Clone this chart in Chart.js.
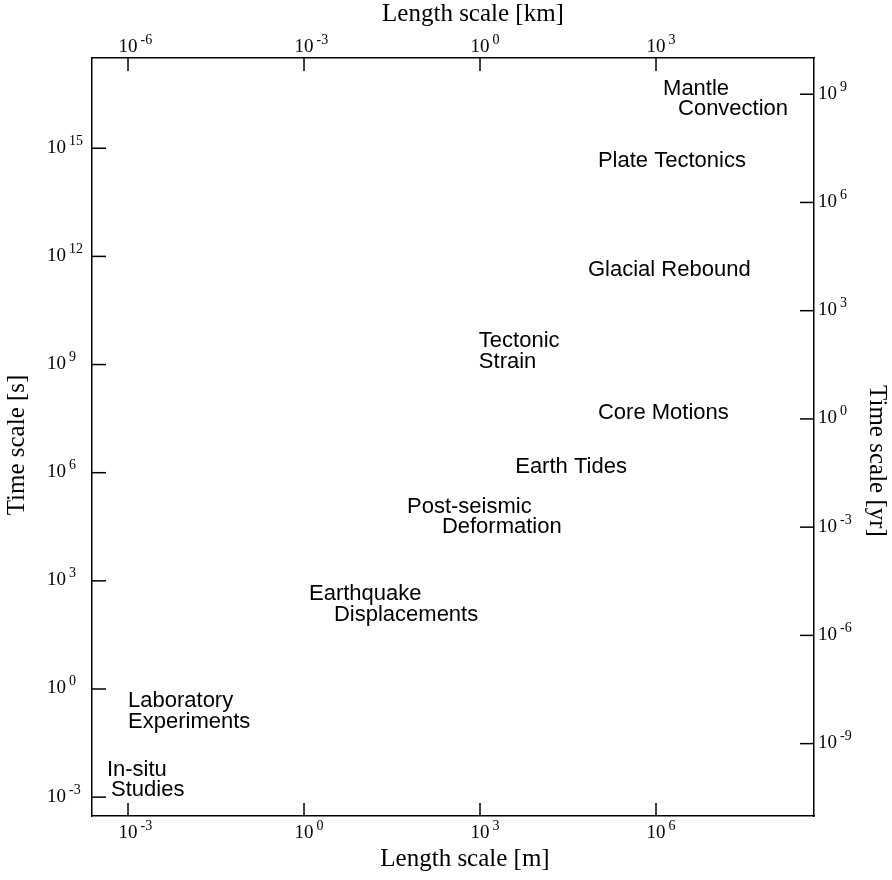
<!DOCTYPE html>
<html>
<head>
<meta charset="utf-8">
<title>Length and time scales</title>
<script src="https://cdn.jsdelivr.net/npm/chart.js@4.4.1/dist/chart.umd.min.js"></script>
<style>
  body { margin: 0; background: #fff; }
  #wrap { width: 892px; height: 880px; }
</style>
</head>
<body>
<div id="wrap"><canvas id="myChart"></canvas></div>
<script>
// Process names, one entry per text line, placed at (log10 length [m], log10 time [s])
const labelText = [
  "Mantle", "Convection", "Plate Tectonics", "Glacial Rebound",
  "Tectonic", "Strain", "Core Motions", "Earth Tides",
  "Post-seismic", "Deformation", "Earthquake", "Displacements",
  "Laboratory", "Experiments", "In-situ", "Studies",
];
const labelLogLength = [6.12, 6.375, 5.01, 4.84, 2.98, 2.98, 5.01, 3.6, 1.755, 2.35, 0.085, 0.51, -3.0, -3.0, -3.36, -3.29];
const labelLogTime = [16.48, 15.92, 14.48, 11.46, 9.49, 8.91, 7.5, 6.0, 4.89, 4.34, 2.48, 1.9, -0.51, -1.095, -2.4, -2.98];

// Tick exponents for each axis
const lengthTicksM = [-3, 0, 3, 6];
const lengthTicksKm = [-6, -3, 0, 3];
const timeTicksS = [-3, 0, 3, 6, 9, 12, 15];
const timeTicksYr = [-9, -6, -3, 0, 3, 6, 9];

// Axis titles
const titleBottom = "Length scale [m]";
const titleTop = "Length scale [km]";
const titleLeft = "Time scale [s]";
const titleRight = "Time scale [yr]";

// Axis ranges (log10 of m and s)
const lengthRange = [-3.614, 8.693];
const timeRange = [-3.507, 17.503];
const metersPerKm = 1000;
const secondsPerYear = 3.156e7;

const borderOpts = { display: true, color: "#000", width: 1.5 };
const noGrid = { display: false, drawTicks: false };

function setTicks(exps) {
  return function (scale) {
    scale.ticks = exps.map((e) => ({ value: Math.pow(10, e) }));
  };
}

// draws "10" with a raised exponent
function drawPower(ctx, exp, x, y, centered) {
  ctx.font = "19px 'Liberation Serif'";
  const w = ctx.measureText("10").width;
  const x0 = centered ? x - w / 2 : x;
  ctx.fillText("10", x0, y);
  ctx.font = "14px 'Liberation Serif'";
  ctx.fillText(String(exp), x0 + w + 3, y - 8);
}

// inward ticks, power-of-ten tick labels and axis titles
const axisDecor = {
  id: "axisDecor",
  afterDraw(chart) {
    const ctx = chart.ctx;
    const area = chart.chartArea;
    const sc = chart.scales;
    const cx = (area.left + area.right) / 2;
    const cy = (area.top + area.bottom) / 2;
    ctx.save();
    ctx.strokeStyle = "#000";
    ctx.fillStyle = "#000";
    ctx.lineWidth = 1.5;
    ctx.textAlign = "left";
    ctx.textBaseline = "alphabetic";

    lengthTicksM.forEach((e) => {
      const px = sc.x.getPixelForValue(Math.pow(10, e));
      ctx.beginPath();
      ctx.moveTo(px, area.bottom);
      ctx.lineTo(px, area.bottom - 13);
      ctx.stroke();
      drawPower(ctx, e, px, area.bottom + 22, true);
    });
    lengthTicksKm.forEach((e) => {
      const px = sc.x2.getPixelForValue(Math.pow(10, e));
      ctx.beginPath();
      ctx.moveTo(px, area.top);
      ctx.lineTo(px, area.top + 13);
      ctx.stroke();
      drawPower(ctx, e, px, area.top - 6, true);
    });
    timeTicksS.forEach((e) => {
      const py = sc.y.getPixelForValue(Math.pow(10, e));
      ctx.beginPath();
      ctx.moveTo(area.left, py);
      ctx.lineTo(area.left + 14, py);
      ctx.stroke();
      drawPower(ctx, e, area.left - 45, py + 4.5, false);
    });
    timeTicksYr.forEach((e) => {
      const py = sc.y2.getPixelForValue(Math.pow(10, e));
      ctx.beginPath();
      ctx.moveTo(area.right, py);
      ctx.lineTo(area.right - 14, py);
      ctx.stroke();
      drawPower(ctx, e, area.right + 4, py + 4.5, false);
    });

    // titles
    ctx.font = "25px 'Liberation Serif'";
    ctx.textAlign = "center";
    ctx.fillText(titleBottom, cx + 12, area.bottom + 50);
    ctx.fillText(titleTop, cx + 20, area.top - 37);
    ctx.save();
    ctx.translate(area.left - 68, cy + 8);
    ctx.rotate(-Math.PI / 2);
    ctx.fillText(titleLeft, 0, 0);
    ctx.restore();
    ctx.save();
    ctx.translate(area.right + 56, cy + 24);
    ctx.rotate(Math.PI / 2);
    ctx.fillText(titleRight, 0, 0);
    ctx.restore();
    ctx.restore();
  },
};

// text labels at the scatter points
const processLabels = {
  id: "processLabels",
  afterDatasetsDraw(chart) {
    const ctx = chart.ctx;
    const meta = chart.getDatasetMeta(0);
    ctx.save();
    ctx.fillStyle = "#000";
    ctx.font = "22px 'Liberation Sans'";
    ctx.textAlign = "left";
    ctx.textBaseline = "alphabetic";
    meta.data.forEach((pt, i) => {
      ctx.fillText(labelText[i], pt.x, pt.y);
    });
    ctx.restore();
  },
};

const points = labelText.map((t, i) => ({
  x: Math.pow(10, labelLogLength[i]),
  y: Math.pow(10, labelLogTime[i]),
}));

const myChart = new Chart(document.getElementById("myChart"), {
  type: "scatter",
  data: {
    datasets: [
      {
        label: "Processes",
        data: points,
        pointRadius: 0,
        pointHoverRadius: 0,
        xAxisID: "x",
        yAxisID: "y",
      },
    ],
  },
  options: {
    responsive: true,
    maintainAspectRatio: false,
    animation: false,
    events: [],
    layout: { padding: { left: 92, right: 78, top: 58, bottom: 64 } },
    plugins: {
      legend: { display: false },
      tooltip: { enabled: false },
    },
    scales: {
      x: {
        type: "logarithmic",
        position: "bottom",
        min: Math.pow(10, lengthRange[0]),
        max: Math.pow(10, lengthRange[1]),
        afterBuildTicks: setTicks(lengthTicksM),
        ticks: { display: false },
        grid: noGrid,
        border: borderOpts,
      },
      x2: {
        type: "logarithmic",
        position: "top",
        min: Math.pow(10, lengthRange[0]) / metersPerKm,
        max: Math.pow(10, lengthRange[1]) / metersPerKm,
        afterBuildTicks: setTicks(lengthTicksKm),
        ticks: { display: false },
        grid: noGrid,
        border: borderOpts,
      },
      y: {
        type: "logarithmic",
        position: "left",
        min: Math.pow(10, timeRange[0]),
        max: Math.pow(10, timeRange[1]),
        afterBuildTicks: setTicks(timeTicksS),
        ticks: { display: false },
        grid: noGrid,
        border: borderOpts,
      },
      y2: {
        type: "logarithmic",
        position: "right",
        min: Math.pow(10, timeRange[0]) / secondsPerYear,
        max: Math.pow(10, timeRange[1]) / secondsPerYear,
        afterBuildTicks: setTicks(timeTicksYr),
        ticks: { display: false },
        grid: noGrid,
        border: borderOpts,
      },
    },
  },
  plugins: [processLabels, axisDecor],
});
</script>
</body>
</html>
